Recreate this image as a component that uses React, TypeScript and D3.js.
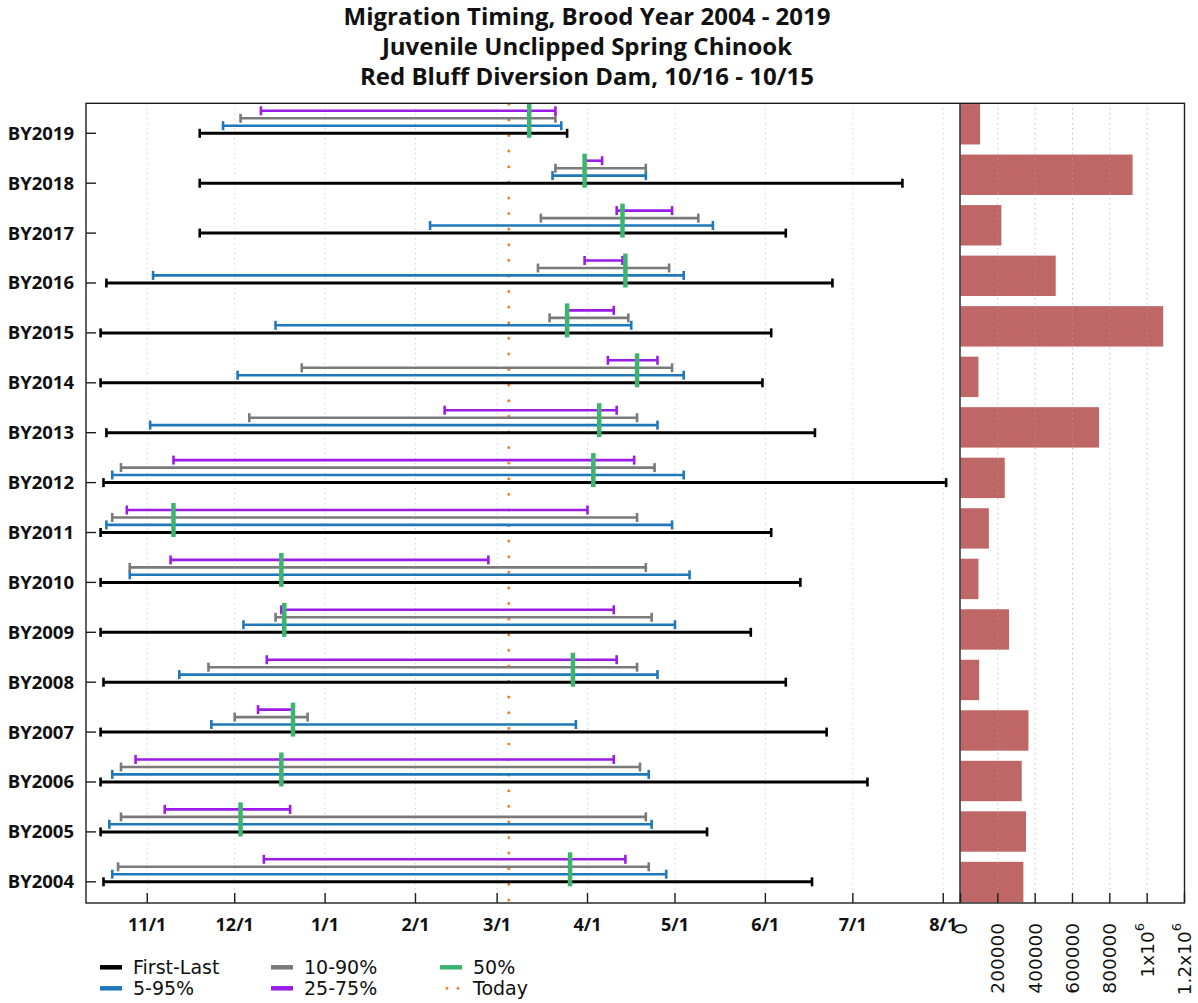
import React from "react";
import * as d3 from "d3";

const years = ["BY2019","BY2018","BY2017","BY2016","BY2015","BY2014","BY2013","BY2012","BY2011","BY2010","BY2009","BY2008","BY2007","BY2006","BY2005","BY2004"];
const firstDates = ["11/19","11/19","11/19","10/18","10/16","10/16","10/18","10/17","10/16","10/16","10/16","10/17","10/16","10/16","10/16","10/17"];
const lastDates = ["3/25","7/18","6/8","6/24","6/3","5/31","6/18","8/2","6/3","6/13","5/27","6/8","6/22","7/6","5/12","6/17"];
const p5Dates = ["11/27","3/20","2/6","11/3","12/15","12/2","11/2","10/20","10/18","10/26","12/4","11/12","11/23","10/20","10/19","10/20"];
const p95Dates = ["3/23","4/21","5/14","5/4","4/16","5/4","4/25","5/4","4/30","5/6","5/1","4/25","3/28","4/22","4/23","4/28"];
const p10Dates = ["12/3","3/21","3/16","3/15","3/19","12/24","12/6","10/23","10/20","10/26","12/15","11/22","12/1","10/23","10/23","10/22"];
const p90Dates = ["3/21","4/21","5/9","4/29","4/15","4/30","4/18","4/24","4/18","4/21","4/23","4/18","12/26","4/19","4/21","4/22"];
const p25Dates = ["12/10","3/31","4/11","3/31","3/25","4/8","2/11","11/10","10/25","11/9","12/17","12/12","12/9","10/28","11/7","12/11"];
const p75Dates = ["3/21","4/6","4/30","4/13","4/10","4/25","4/11","4/17","4/1","2/26","4/10","4/11","12/21","4/10","12/20","4/14"];
const medianDates = ["3/12","3/31","4/13","4/14","3/25","4/18","4/5","4/3","11/10","12/17","12/18","3/27","12/21","12/17","12/3","3/26"];
const abundance = [105000,922000,219000,510000,1086000,96000,742000,237000,152000,96000,260000,100000,364000,328000,351000,337000];

const monthTicks = ["11/1","12/1","1/1","2/1","3/1","4/1","5/1","6/1","7/1","8/1"];
const abundanceTicks = [0,200000,400000,600000,800000,1000000,1200000];
const todayDate = "3/5";
const domainStart = "10/11";
const domainEnd = "8/6";
const titleLines = ["Migration Timing, Brood Year 2004 - 2019","Juvenile Unclipped Spring Chinook","Red Bluff Diversion Dam, 10/16 - 10/15"];

const C = {
  black: "#000000",
  blue: "#1f78b9",
  gray: "#7a7a7a",
  purple: "#9a1ce6",
  green: "#3cb46e",
  orange: "#ef7f2f",
  bar: "#bf6767",
};

const parseMD = (s: string) => {
  const [m, d] = s.split("/").map(Number);
  return new Date(m >= 10 ? 2018 : 2019, m - 1, d);
};

const BOLD = "'Open Sans', 'DejaVu Sans', sans-serif";
const REG = "'DejaVu Sans', 'Open Sans', sans-serif";

export default function App() {
  const top = 103.3, bottom = 903, left = 86, mid = 960, right = 1184.5;
  const x = d3.scaleTime()
    .domain([parseMD(domainStart), d3.timeHour.offset(parseMD(domainEnd), 18)])
    .range([left, mid]);
  const y = d3.scalePoint<string>().domain(years).range([133.3, 881.8]);
  const yb = d3.scaleBand<string>().domain(years).range([top, bottom]).paddingInner(0.2).paddingOuter(0.015);
  const xb = d3.scaleLinear().domain([0, 1200000]).range([mid + 0.5, right]);

  const series = [
    { lo: firstDates, hi: lastDates, color: C.black, dy: 0, w: 3 },
    { lo: p5Dates, hi: p95Dates, color: C.blue, dy: -7.6, w: 2.6 },
    { lo: p10Dates, hi: p90Dates, color: C.gray, dy: -15, w: 2.6 },
    { lo: p25Dates, hi: p75Dates, color: C.purple, dy: -22.5, w: 2.6 },
  ];

  const legend = [
    { label: "First-Last", color: C.black, col: 0, row: 0, dotted: false },
    { label: "5-95%", color: C.blue, col: 0, row: 1, dotted: false },
    { label: "10-90%", color: C.gray, col: 1, row: 0, dotted: false },
    { label: "25-75%", color: C.purple, col: 1, row: 1, dotted: false },
    { label: "50%", color: C.green, col: 2, row: 0, dotted: false },
    { label: "Today", color: C.orange, col: 2, row: 1, dotted: true },
  ];
  const legendColX = [100, 271, 440];
  const legendRowY = [967.3, 988.3];

  const tickFmt = (v: number) => {
    if (v >= 1000000) {
      const m = v / 1000000;
      return { base: `${m}x10`, sup: "6" };
    }
    return { base: `${v}`, sup: "" };
  };

  return (
    <svg width={1198} height={1003} style={{ position: "absolute", left: 0, top: 0, background: "#fff" }}>
      <rect x={0} y={0} width={1198} height={1003} fill="#fff" />
      {titleLines.map((t, i) => (
        <text key={i} x={587} y={24.5 + i * 30} textAnchor="middle" fontFamily={BOLD} fontWeight="bold" fontSize={24} fill="#111">
          {t}
        </text>
      ))}

      {monthTicks.map((m) => (
        <line key={"g" + m} x1={x(parseMD(m))} x2={x(parseMD(m))} y1={top} y2={bottom} stroke="#bdbdbd" strokeWidth={1} strokeDasharray="1 4" />
      ))}
      {years.map((yr, i) => (
        <rect key={"b" + yr} x={xb(0)} y={yb(yr)} width={xb(abundance[i]) - xb(0)} height={yb.bandwidth()} fill={C.bar} />
      ))}
      {abundanceTicks.slice(1, -1).map((v) => (
        <line key={"bg" + v} x1={xb(v)} x2={xb(v)} y1={top} y2={bottom} stroke="#a8a8a8" strokeWidth={1} strokeDasharray="1 4" />
      ))}

      <line x1={x(parseMD(todayDate))} x2={x(parseMD(todayDate))} y1={top + 1} y2={bottom} stroke={C.orange} strokeWidth={3} strokeLinecap="round" strokeDasharray="0 15.6" />

      {series.map((s, si) =>
        years.map((yr, i) => {
          const x1 = x(parseMD(s.lo[i]));
          const x2 = x(parseMD(s.hi[i]));
          const yy = (y(yr) as number) + s.dy;
          return (
            <g key={si + yr} stroke={s.color} strokeWidth={s.w}>
              <line x1={x1} x2={x2} y1={yy} y2={yy} />
              <line x1={x1} x2={x1} y1={yy - 4.5} y2={yy + 4.5} strokeWidth={2.6} />
              <line x1={x2} x2={x2} y1={yy - 4.5} y2={yy + 4.5} strokeWidth={2.6} />
            </g>
          );
        })
      )}
      {years.map((yr, i) => {
        const xm = x(parseMD(medianDates[i]));
        const yy = y(yr) as number;
        return <line key={"m" + yr} x1={xm} x2={xm} y1={yy - 29.5} y2={yy + 4.5} stroke={C.green} strokeWidth={4.5} />;
      })}

      <rect x={left} y={top} width={right - left} height={bottom - top} fill="none" stroke="#1e1e1e" strokeWidth={1.4} />
      <line x1={mid} x2={mid} y1={top} y2={bottom} stroke="#1e1e1e" strokeWidth={1.4} />

      {years.map((yr) => (
        <g key={"yt" + yr}>
          <line x1={left} x2={left + 10} y1={y(yr)} y2={y(yr)} stroke="#1e1e1e" strokeWidth={1.4} />
          <text x={74} y={y(yr)} dy="0.35em" textAnchor="end" fontFamily={BOLD} fontWeight="bold" fontSize={18.5} fill="#111">
            {yr}
          </text>
        </g>
      ))}

      {monthTicks.map((m) => (
        <g key={"xt" + m}>
          <line x1={x(parseMD(m))} x2={x(parseMD(m))} y1={bottom} y2={bottom - 10} stroke="#1e1e1e" strokeWidth={1.4} />
          <text x={x(parseMD(m))} y={931} textAnchor="middle" fontFamily={BOLD} fontWeight="bold" fontSize={18} fill="#111">
            {m}
          </text>
        </g>
      ))}

      {abundanceTicks.map((v) => {
        const f = tickFmt(v);
        const xv = xb(v);
        return (
          <g key={"bt" + v}>
            <line x1={xv} x2={xv} y1={bottom} y2={bottom - 10} stroke="#1e1e1e" strokeWidth={1.4} />
            <text transform={`translate(${xv},923) rotate(-90)`} dy="0.35em" textAnchor="end" fontFamily={REG} fontSize={18.5} fill="#111">
              {f.base}
              {f.sup && <tspan fontSize={13} dy="-0.75em">{f.sup}</tspan>}
            </text>
          </g>
        );
      })}

      {legend.map((l) => {
        const lx = legendColX[l.col];
        const ly = legendRowY[l.row];
        return (
          <g key={"l" + l.label}>
            {l.dotted ? (
              <line x1={lx + 7} x2={lx + 18.5} y1={ly} y2={ly} stroke={l.color} strokeWidth={3} strokeLinecap="round" strokeDasharray="0 11" />
            ) : (
              <line x1={lx} x2={lx + 22} y1={ly} y2={ly} stroke={l.color} strokeWidth={4.5} />
            )}
            <text x={lx + 33} y={ly} dy="0.35em" fontFamily={REG} fontSize={19} fill="#111">
              {l.label}
            </text>
          </g>
        );
      })}
    </svg>
  );
}
